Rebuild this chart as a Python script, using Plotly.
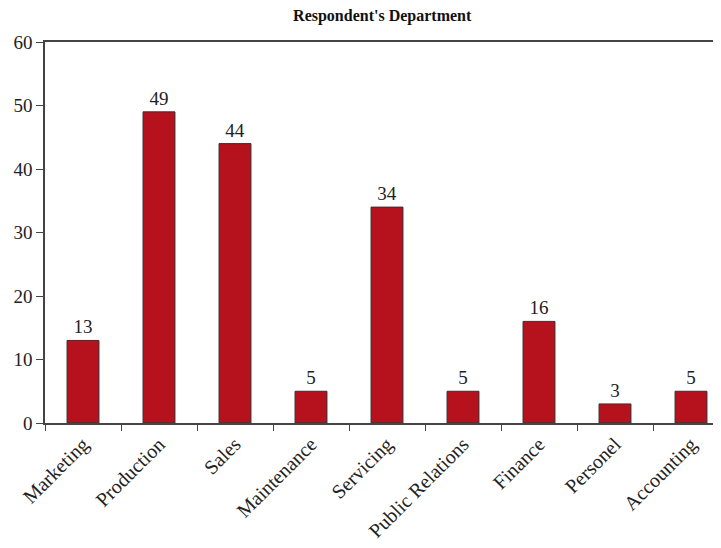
import plotly.graph_objects as go

categories = ["Marketing", "Production", "Sales", "Maintenance", "Servicing",
              "Public Relations", "Finance", "Personel", "Accounting"]
counts = [13, 49, 44, 5, 34, 5, 16, 3, 5]
y_ticks = [0, 10, 20, 30, 40, 50, 60]

FONT = "Liberation Serif"

fig = go.Figure(go.Bar(
    x=categories, y=counts, width=0.42,
    marker=dict(color="#B5121D", line=dict(color="#333333", width=1)),
    text=[str(v) for v in counts], textposition="outside",
    textfont=dict(family=FONT, size=19, color="#222222"),
    cliponaxis=False,
))

fig.update_layout(
    width=721, height=548,
    margin=dict(l=37, r=0, t=34, b=133, autoexpand=False),
    paper_bgcolor="white", plot_bgcolor="white",
    title=dict(text="<b>Respondent's Department</b>", x=0.519, xanchor="center",
               xref="container", yref="container", y=0.996, yanchor="top",
               font=dict(family=FONT, size=16, color="#111111")),
    showlegend=False,
    font=dict(family=FONT, color="#222222"),
)
fig.update_xaxes(
    type="category", range=[-0.5, 8.5], automargin=False,
    showline=True, linecolor="#444444", linewidth=1.5, mirror=True,
    ticks="outside", tickson="boundaries", ticklen=6, tickcolor="#444444",
    tickangle=-45, tickfont=dict(family=FONT, size=20, color="#222222"),
    showgrid=False,
)
fig.update_yaxes(
    range=[0, 60], tickvals=y_ticks, automargin=False,
    showline=True, linecolor="#444444", linewidth=1.5,
    ticks="outside", ticklen=7, tickcolor="#444444",
    tickfont=dict(family=FONT, size=19, color="#222222"),
    showgrid=False, zeroline=False,
)

fig.write_html("out.html")
